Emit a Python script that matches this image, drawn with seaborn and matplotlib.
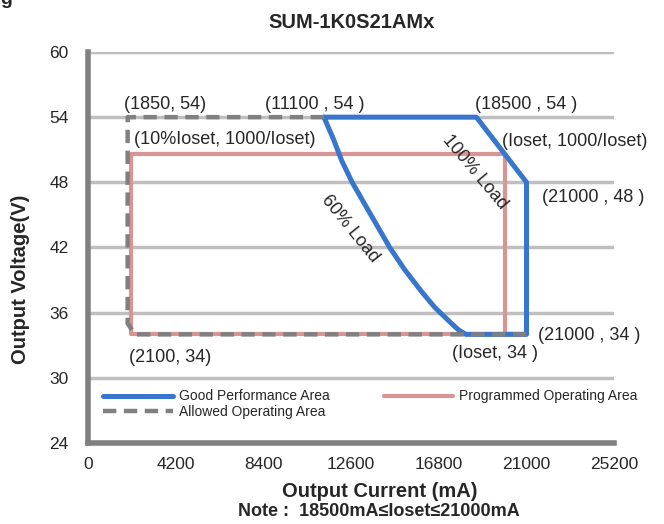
import matplotlib
matplotlib.use("Agg")
import matplotlib.pyplot as plt
import seaborn as sns
import pandas as pd

# series (mA, V)
good_i = [11300, 18600, 21000, 21000, 18100, 17750, 17300, 16600, 15950, 15150,
          14450, 13850, 13250, 12650, 12150, 11750, 11300]
good_v = [54, 54, 48, 34, 34, 34.4, 35.2, 36.5, 38, 40,
          42, 44, 46, 48, 50, 52, 54]

prog_i = [21000, 19950, 19950, 2070, 2070, 21000]
prog_v = [34, 34, 50.65, 50.65, 34, 34]

allow_i = [11300, 1900, 1900, 2250, 21000]
allow_v = [54, 54, 35.0, 34, 34]

x_ticks = [0, 4200, 8400, 12600, 16800, 21000, 25200]
y_ticks = [24, 30, 36, 42, 48, 54, 60]

labels = [
    ("(1850, 54)", 1720, 55.2),
    ("(11100 , 54 )", 8470, 55.2),
    ("(18500 , 54 )", 18530, 55.2),
    ("(10%Ioset, 1000/Ioset)", 2200, 51.9),
    ("(Ioset, 1000/Ioset)", 19830, 51.8),
    ("(21000 , 48 )", 21740, 46.6),
    ("(21000 , 34 )", 21550, 33.9),
    ("(Ioset, 34 )", 17430, 32.2),
    ("(2100, 34)", 1960, 31.9),
]

good = pd.DataFrame({"I": good_i, "V": good_v})
prog = pd.DataFrame({"I": prog_i, "V": prog_v})
allow = pd.DataFrame({"I": allow_i, "V": allow_v})

sns.set_style("white")
plt.rcParams["font.family"] = ["Liberation Sans", "DejaVu Sans"]

fig = plt.figure(figsize=(6.64, 5.24), dpi=100)
ax = fig.add_axes([0.1325, 0.1546, 0.7925, 0.7462])

for yv in y_ticks[1:]:
    ax.axhline(yv, color="#BFBFBF", lw=2.5, zorder=0)

sns.lineplot(data=good, x="I", y="V", sort=False, estimator=None, ax=ax,
             color="#3776CC", lw=3.6, label="Good Performance Area", zorder=3)
sns.lineplot(data=prog, x="I", y="V", sort=False, estimator=None, ax=ax,
             color="#D99594", lw=3, label="Programmed Operating Area", zorder=2)
sns.lineplot(data=allow, x="I", y="V", sort=False, estimator=None, ax=ax,
             color="#808080", lw=3.2, ls=(0, (3.0, 1.7)), label="Allowed Operating Area", zorder=4)

ax.set_xlim(0, 25200)
ax.set_ylim(24, 60)
ax.set_xticks(x_ticks)
ax.set_yticks(y_ticks)
ax.tick_params(axis="x", direction="in", length=3, width=2, color="#808080", labelsize=12.5, pad=10)
ax.tick_params(axis="y", length=0, labelsize=12.5, pad=14)
for s in ["top", "right"]:
    ax.spines[s].set_visible(False)
for s in ["left", "bottom"]:
    ax.spines[s].set_color("#808080")
    ax.spines[s].set_linewidth(4)

for txt, x, y in labels:
    ax.text(x, y, txt, fontsize=13, ha="left", va="center")

ax.text(18530, 48.9, "100% Load", fontsize=13, rotation=-50, ha="center", va="center")
ax.text(12550, 43.75, "60% Load", fontsize=13, rotation=-51, ha="center", va="center")

ax.set_title("SUM-1K0S21AMx", fontsize=14.5, fontweight="bold", pad=17)
ax.set_xlabel("Output Current (mA)", fontsize=14.5, fontweight="bold")
ax.xaxis.set_label_coords(0.555, -0.125)
ax.xaxis.label.set_va("center")
ax.set_ylabel("Output Voltage(V)", fontsize=14.5, fontweight="bold")
ax.yaxis.set_label_coords(-0.129, 0.419)
ax.yaxis.label.set_va("center")
fig.text(0.571, 0.023, "Note :  18500mA\u2264Ioset\u226421000mA", fontsize=13,
         fontweight="bold", ha="center", va="center")
fig.text(0.0, 1.0, "g", fontsize=14, fontweight="bold", ha="left", va="center")

h, l = ax.get_legend_handles_labels()
order = [0, 2, 1]
ax.legend([h[i] for i in order], [l[i] for i in order], ncol=2, loc="lower left",
          bbox_to_anchor=(0.005, 0.03), frameon=False, fontsize=10, handlelength=5,
          columnspacing=3.9, labelspacing=0.1, handletextpad=0.45)

fig.savefig("out.png", dpi=100)
